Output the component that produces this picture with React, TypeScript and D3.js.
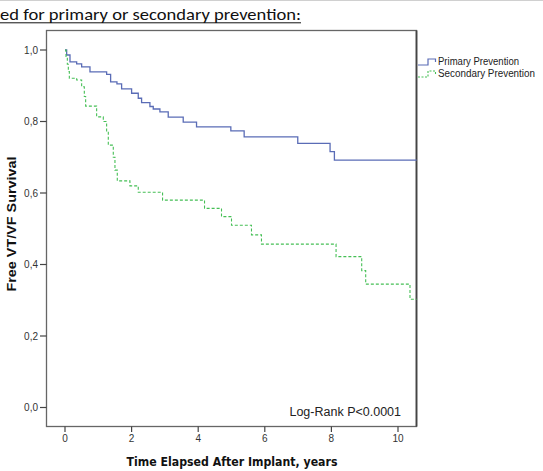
import React from "react";
import * as d3 from "d3";

// Kaplan–Meier step data: event times (years) and survival after each step
const primaryTimes = [0, 0.05, 0.15, 0.35, 0.5, 0.75, 1.25, 1.37, 1.56, 1.7, 2.0, 2.2, 2.3, 2.55, 2.65, 2.85, 3.1, 3.55, 3.95, 4.98, 5.38, 6.99, 7.96, 8.09, 10.56];
const primarySurvival = [1.0, 0.986, 0.967, 0.961, 0.953, 0.939, 0.932, 0.911, 0.905, 0.891, 0.879, 0.865, 0.853, 0.842, 0.835, 0.827, 0.812, 0.798, 0.785, 0.774, 0.757, 0.739, 0.716, 0.692, 0.692];

const secondaryTimes = [0, 0.03, 0.07, 0.1, 0.13, 0.35, 0.5, 0.58, 0.62, 0.95, 1.15, 1.25, 1.3, 1.45, 1.5, 1.57, 1.95, 2.2, 2.93, 4.19, 4.7, 5.0, 5.6, 5.9, 8.14, 8.91, 9.03, 10.36, 10.56];
const secondarySurvival = [1.0, 0.98, 0.96, 0.94, 0.921, 0.916, 0.897, 0.87, 0.843, 0.813, 0.8, 0.77, 0.734, 0.7, 0.664, 0.634, 0.62, 0.602, 0.58, 0.557, 0.534, 0.51, 0.483, 0.457, 0.422, 0.383, 0.345, 0.303, 0.303];

const yTicks = [0, 0.2, 0.4, 0.6, 0.8, 1.0];
const xTicks = [0, 2, 4, 6, 8, 10];
const seriesNames = ["Primary Prevention", "Secondary Prevention"];

const W = 543;
const H = 471;

export default function App() {
  const frame = { left: 46.5, right: 416.5, top: 30.5, bottom: 426.5 };
  const x = d3.scaleLinear().domain([0, 10]).range([65, 398]);
  const y = d3.scaleLinear().domain([0, 1]).range([407.5, 50]);

  const line = d3
    .line<[number, number]>()
    .x((d) => x(d[0]))
    .y((d) => y(d[1]))
    .curve(d3.curveStepAfter);

  const primaryPath = line(primaryTimes.map((t, i) => [t, primarySurvival[i]]))!;
  const secondaryPath = line(secondaryTimes.map((t, i) => [t, secondarySurvival[i]]))!;

  const fmt = (v: number) => v.toFixed(1).replace(".", ",");
  const axisFont = "Liberation Sans, Arial, sans-serif";

  return (
    <div style={{ position: "absolute", left: 0, top: 0 }}>
      <svg width={W} height={H} style={{ display: "block", background: "#fff" }}>
        <line x1={0} x2={W} y1={0.5} y2={0.5} stroke="#d0d0d0" strokeWidth={1} />
        <text
          x={0}
          y={20}
          fontFamily="Carlito, 'Open Sans', 'Liberation Sans', sans-serif"
          fontSize={15.5}
          fill="#111"
          textLength={301}
          lengthAdjust="spacingAndGlyphs"
        >
          ed for primary or secondary prevention:
        </text>
        <line x1={0} x2={301} y1={22.8} y2={22.8} stroke="#111" strokeWidth={1} />

        {/* plot frame */}
        <rect
          x={frame.left}
          y={frame.top}
          width={frame.right - frame.left}
          height={frame.bottom - frame.top}
          fill="none"
          stroke="#666"
          strokeWidth={1.3}
        />
        <line x1={frame.right} x2={frame.right} y1={frame.top} y2={frame.bottom} stroke="#444" strokeWidth={1.8} />

        {/* y axis */}
        {yTicks.map((v) => (
          <g key={"y" + v}>
            <line x1={40} x2={frame.left} y1={y(v)} y2={y(v)} stroke="#444" strokeWidth={1.2} />
            <text x={38} y={y(v) + 3.5} textAnchor="end" fontFamily={axisFont} fontSize={10} fill="#333">
              {fmt(v)}
            </text>
          </g>
        ))}
        <text
          transform={`translate(16,224) rotate(-90)`}
          textAnchor="middle"
          fontFamily={axisFont}
          fontWeight="bold"
          fontSize={13}
          fill="#111"
          textLength={135}
          lengthAdjust="spacingAndGlyphs"
        >
          Free VT/VF Survival
        </text>

        {/* x axis */}
        {xTicks.map((v) => (
          <g key={"x" + v}>
            <line x1={x(v)} x2={x(v)} y1={frame.bottom} y2={432} stroke="#444" strokeWidth={1.2} />
            <text x={x(v)} y={442} textAnchor="middle" fontFamily={axisFont} fontSize={10} fill="#333">
              {v}
            </text>
          </g>
        ))}
        <text
          x={232}
          y={466}
          textAnchor="middle"
          fontFamily="'DejaVu Sans', Verdana, sans-serif"
          fontWeight="bold"
          fontSize={12}
          fill="#111"
          textLength={211}
          lengthAdjust="spacingAndGlyphs"
        >
          Time Elapsed After Implant, years
        </text>

        {/* survival curves */}
        <path d={primaryPath} fill="none" stroke="#5a6cb6" strokeWidth={1.3} />
        <path d={secondaryPath} fill="none" stroke="#45bf55" strokeWidth={1.1} strokeDasharray="3,2" />

        <text x={401} y={416} textAnchor="end" fontFamily={axisFont} fontSize={12.5} fill="#222">
          Log-Rank P&lt;0.0001
        </text>

        {/* legend */}
        <path d="M418,65 H428 V59 H435.5 V62" fill="none" stroke="#5a6cb6" strokeWidth={1.2} />
        <path d="M418,77 H428 V71 H435.5 V74" fill="none" stroke="#45bf55" strokeWidth={1.1} strokeDasharray="2,1.5" />
        <text x={438} y={65} fontFamily={axisFont} fontSize={10} fill="#222" textLength={81} lengthAdjust="spacingAndGlyphs">
          {seriesNames[0]}
        </text>
        <text x={438} y={77} fontFamily={axisFont} fontSize={10} fill="#222" textLength={97} lengthAdjust="spacingAndGlyphs">
          {seriesNames[1]}
        </text>
      </svg>
    </div>
  );
}
